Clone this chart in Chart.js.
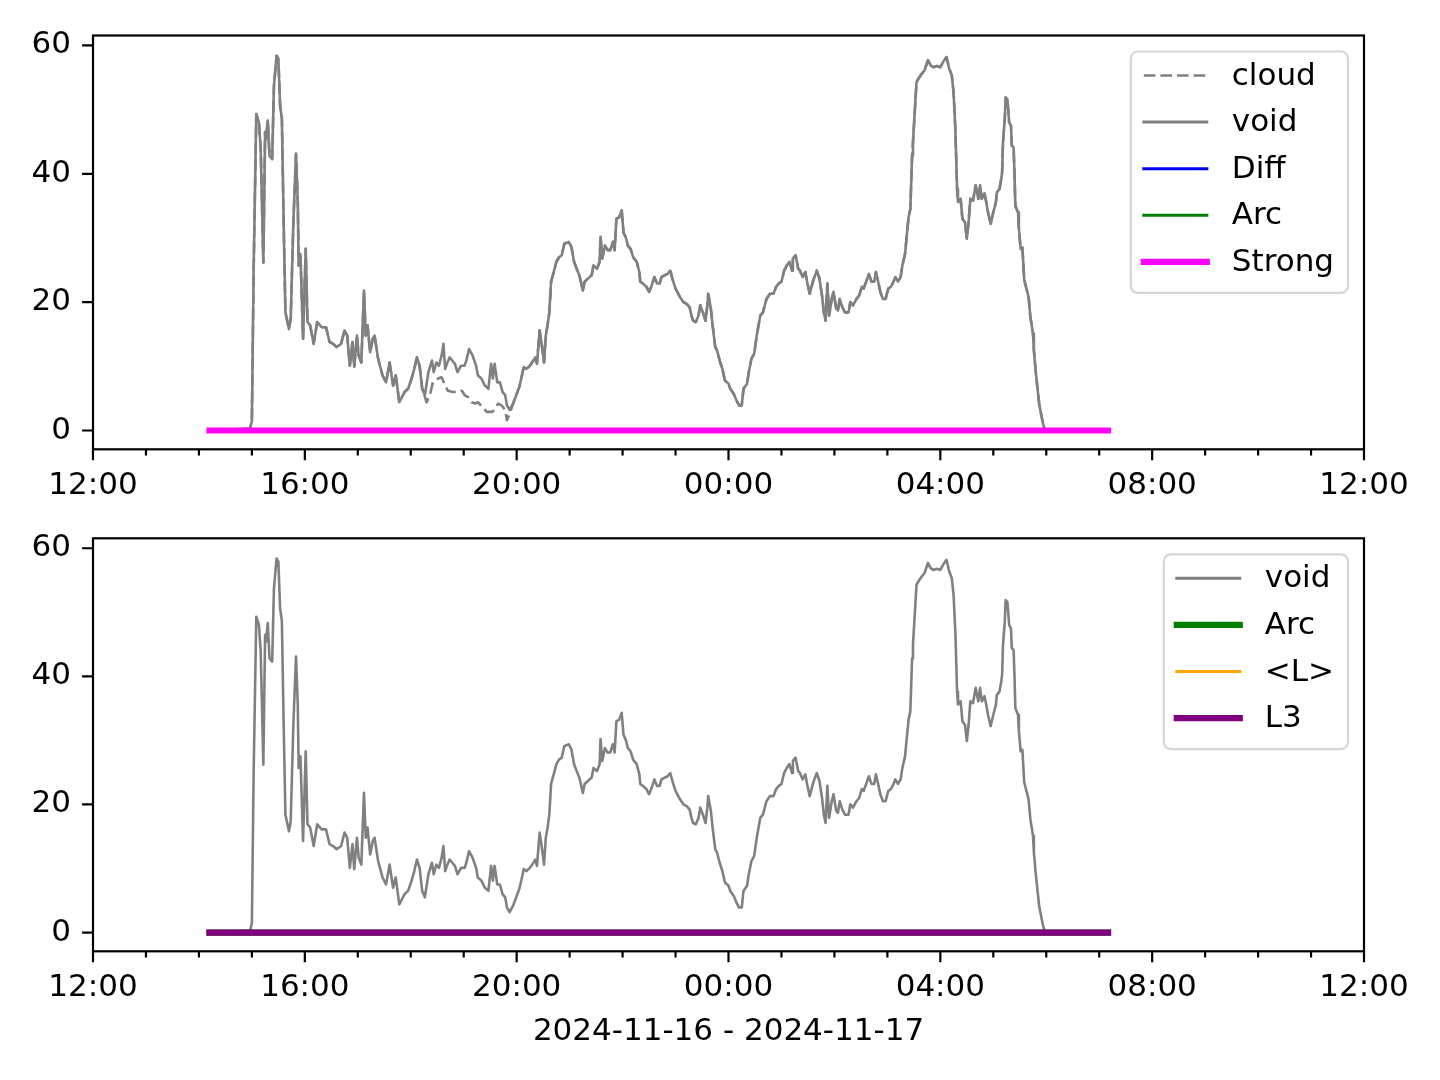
<!DOCTYPE html>
<html><head><meta charset="utf-8">
<script src="https://cdn.jsdelivr.net/npm/chart.js@4/dist/chart.umd.min.js"></script>
<style>
html,body{margin:0;padding:0;background:#fff;width:1440px;height:1080px;overflow:hidden}
canvas{position:absolute;left:0}
</style></head><body>
<canvas id="topChart" style="top:0px" width="1440" height="520"></canvas>
<canvas id="botChart" style="top:520px" width="1440" height="560"></canvas>
<script>
// ---------------- data (times are clock times, 2024-11-16 12:00 -> 2024-11-17 12:00) ----------------
const voidTimes = ["14:12","14:58","15:00","15:02","15:05","15:08","15:10","15:13","15:15","15:16","15:18","15:20","15:23","15:25","15:28","15:30","15:32","15:34","15:36","15:38","15:42","15:44","15:47","15:50","15:52","15:53","15:55","15:58","16:01","16:03","16:06","16:10","16:14","16:19","16:24","16:28","16:32","16:36","16:41","16:45","16:48","16:51","16:54","16:56","16:59","17:01","17:04","17:07","17:09","17:11","17:14","17:17","17:19","17:23","17:28","17:32","17:36","17:40","17:43","17:47","17:50","17:53","17:57","18:01","18:04","18:07","18:10","18:13","18:16","18:20","18:24","18:26","18:29","18:32","18:35","18:37","18:39","18:41","18:44","18:47","18:50","18:53","18:57","19:01","19:03","19:06","19:10","19:14","19:16","19:20","19:24","19:28","19:31","19:33","19:35","19:38","19:41","19:44","19:47","19:49","19:52","19:56","20:00","20:03","20:06","20:08","20:11","20:15","20:19","20:21","20:23","20:26","20:28","20:31","20:33","20:35","20:37","20:39","20:42","20:45","20:48","20:51","20:54","20:59","21:02","21:05","21:08","21:11","21:15","21:17","21:21","21:25","21:27","21:31","21:34","21:35","21:37","21:40","21:43","21:46","21:49","21:51","21:53","21:56","21:59","22:01","22:04","22:06","22:09","22:12","22:16","22:19","22:20","22:23","22:27","22:30","22:33","22:36","22:39","22:42","22:44","22:48","22:51","22:54","22:57","23:00","23:05","23:09","23:13","23:16","23:18","23:20","23:23","23:26","23:28","23:31","23:34","23:36","23:37","23:40","23:42","23:45","23:47","23:50","23:53","23:56","00:00","00:02","00:06","00:09","00:12","00:15","00:17","00:21","00:23","00:26","00:29","00:32","00:36","00:39","00:43","00:47","00:51","00:54","00:57","01:00","01:03","01:06","01:09","01:12","01:13","01:16","01:19","01:21","01:24","01:27","01:29","01:32","01:36","01:40","01:43","01:46","01:48","01:50","01:52","01:54","01:57","01:59","02:02","02:04","02:06","02:09","02:12","02:16","02:18","02:21","02:25","02:28","02:31","02:33","02:36","02:39","02:42","02:45","02:47","02:50","02:52","02:55","02:58","03:01","03:04","03:07","03:09","03:12","03:15","03:17","03:20","03:22","03:24","03:26","03:28","03:29","03:31","03:33","03:36","03:39","03:42","03:46","03:49","03:52","03:56","04:00","04:03","04:07","04:10","04:13","04:15","04:17","04:19","04:20","04:23","04:25","04:28","04:30","04:32","04:34","04:37","04:40","04:43","04:45","04:47","04:50","04:52","04:54","04:57","05:00","05:03","05:04","05:07","05:09","05:10","05:11","05:13","05:14","05:16","05:18","05:20","05:21","05:23","05:24","05:25","05:28","05:29","05:31","05:33","05:35","05:37","05:40","05:42","05:45","05:46","05:48","05:50","05:52","05:55","05:57","05:59","07:10"];
const voidValues = [0,0.3,1.5,25,49.3,48.0,43.9,26.2,46.5,45.4,48.3,42.8,42.3,53.7,58.4,57.9,50.6,48.6,32.4,18.4,15.8,17.4,32.4,43.1,35.6,25.7,27.5,14.3,28.3,16.9,16.4,13.5,16.9,16.1,16.1,13.8,13.5,13.0,13.5,15.6,14.8,10.1,13.8,9.9,14.8,11.7,10.6,21.8,14.8,16.4,12.2,14.3,14.8,11.2,8.6,7.5,10.6,7.0,8.6,4.4,5.2,6.0,6.5,8.1,9.6,11.4,10.1,6.5,5.5,9.1,10.9,9.1,10.6,10.1,11.7,13.5,9.6,10.4,11.4,10.9,10.4,9.1,10.1,10.1,10.9,12.7,11.7,10.1,8.6,8.1,7.0,6.5,10.4,8.1,10.4,7.5,7.5,6.0,5.5,3.9,3.2,4.2,5.7,6.8,8.6,9.9,9.6,10.1,10.9,11.4,10.4,15.6,13.8,10.6,14.8,16.4,18.4,23.2,24.7,26.3,27.0,27.3,29.1,29.4,28.6,26.3,25.2,24.2,21.8,23.2,23.7,24.2,25.7,25.2,26.3,30.2,26.8,28.8,28.1,28.1,29.4,28.1,33.0,33.2,34.3,30.9,29.9,28.8,28.3,27.0,26.3,24.7,23.2,22.9,22.4,21.6,22.6,23.9,22.9,22.9,23.9,24.2,24.4,24.9,23.4,22.1,20.8,20.0,19.7,19.2,17.9,17.1,16.9,17.9,19.5,18.4,17.1,19.5,21.3,19.0,16.4,13.0,12.5,10.9,9.6,7.8,7.3,6.5,5.7,4.7,3.9,3.9,6.5,7.3,9.1,11.2,11.9,14.8,17.9,18.4,20.5,21.3,21.3,22.4,22.9,23.2,24.9,25.7,26.3,24.9,26.8,27.3,25.2,24.9,23.9,24.7,23.2,21.3,23.4,24.9,23.7,21.0,18.4,17.1,22.9,17.9,20.5,21.6,19.0,18.7,20.5,19.2,18.4,18.4,20.0,19.5,20.5,21.0,22.4,22.1,23.2,24.4,23.2,23.2,24.7,22.9,21.6,20.5,20.5,22.1,22.4,23.2,23.9,23.2,23.9,25.7,27.5,30.4,33.2,34.5,42.8,44.9,49.6,54.3,55.0,55.6,56.1,57.7,56.9,56.6,56.8,56.6,57.4,58.2,56.4,55.3,52.7,47.0,37.6,35.6,36.1,33.0,32.4,29.9,32.4,36.1,35.8,38.2,36.1,38.2,36.1,36.9,35.6,34.0,32.2,34.0,35.6,37.1,37.6,39.2,40.2,44.9,48.5,51.9,51.6,48.0,47.5,44.4,44.1,40.2,35.0,34.0,31.4,28.3,28.5,23.5,22.4,20.8,17.7,15.1,12.5,9.3,6.7,4.1,2.0,0.7,0,0];
// stretch where "cloud" departs from "void" (elsewhere both coincide)
const cloudTimes = ["18:18","18:22","18:25","18:31","18:35","18:39","18:42","18:48","18:54","18:58","19:01","19:05","19:09","19:13","19:16","19:22","19:26","19:32","19:35","19:39","19:43","19:47","19:49","19:52"];
const cloudValues = [4.4,5.7,7.5,8.1,8.3,7.0,6.2,6.0,6.0,6.2,5.5,5.2,4.4,4.2,4.4,3.6,2.9,2.9,3.2,4.2,3.9,3.2,1.6,2.6];
const flatTimes = ["14:12","07:10"];
const diffValues = [0,0];
const arcValues = [0,0];
const strongValues = [0,0];
const meanLValues = [0,0];
const l3Values = [0,0];
const xMajorHours = [0,4,8,12,16,20,24];
const xTickLabels = ["12:00","16:00","20:00","00:00","04:00","08:00","12:00"];
const xMinorHours = [1,2,3,5,6,7,9,10,11,13,14,15,17,18,19,21,22,23];
const yTickValues = [0,20,40,60];
const yTickLabels = ["0","20","40","60"];
const xTitle = "2024-11-16 - 2024-11-17";

// ---------------- helpers ----------------
const FONT = '"DejaVu Sans", sans-serif';
const FS = 31;
function toHours(t){ const [h,m] = t.split(':').map(Number); return ((h - 12 + 24) % 24) + m/60; }
function pts(times, vals){ return times.map((t,i)=>({x:toHours(t), y:vals[i]})); }
const voidPts = pts(voidTimes, voidValues);
const cloudSeg = pts(cloudTimes, cloudValues);
const segStart = toHours("18:13"), segEnd = toHours("19:56");
const cloudPts = voidPts.filter(p => p.x <= segStart || p.x >= segEnd).concat(cloudSeg).sort((a,b)=>a.x-b.x);

const frame = {
  id:'frame',
  afterDatasetsDraw(chart){
    const {ctx, chartArea:a, scales:{x,y}} = chart;
    ctx.save();
    ctx.strokeStyle = '#000'; ctx.lineWidth = 2.2; ctx.lineCap='butt';
    ctx.strokeRect(a.left, a.top, a.right-a.left, a.bottom-a.top);
    ctx.beginPath();
    x.ticks.forEach(t => {
      const px = x.getPixelForValue(t.value);
      const len = xMajorHours.includes(t.value) ? 10.9 : 6.25;
      ctx.moveTo(px, a.bottom); ctx.lineTo(px, a.bottom+len);
    });
    y.ticks.forEach(t => {
      const py = y.getPixelForValue(t.value);
      ctx.moveTo(a.left-10.9, py); ctx.lineTo(a.left, py);
    });
    ctx.stroke();
    ctx.restore();
  }
};

const mplLegend = {
  id:'mplLegend',
  afterDraw(chart){
    const {ctx, chartArea:a} = chart;
    const ds = chart.data.datasets;
    ctx.save();
    ctx.font = FS + 'px ' + FONT;
    const maxW = Math.max(...ds.map(d => ctx.measureText(d.label).width));
    const padL=13, handle=63, gap=25, padR=14, rowH=46.6, firstOff=24, lastOff=31;
    const w = padL+handle+gap+maxW+padR;
    const h = firstOff + rowH*(ds.length-1) + lastOff;
    const right = a.right - 16, top = a.top + 16, left = right - w;
    ctx.beginPath();
    ctx.roundRect(left, top, w, h, 7);
    ctx.fillStyle = 'rgba(255,255,255,0.8)'; ctx.fill();
    ctx.strokeStyle = '#d6d6d6'; ctx.lineWidth = 2.2; ctx.stroke();
    ds.forEach((d,i) => {
      const yy = top + firstOff + i*rowH;
      const dashed = d.borderDash && d.borderDash.length;
      ctx.beginPath();
      ctx.setLineDash(dashed ? d.borderDash : []);
      ctx.lineCap = dashed ? 'butt' : 'square';
      ctx.strokeStyle = d.borderColor; ctx.lineWidth = d.legendWidth || d.borderWidth;
      ctx.moveTo(left+padL, yy); ctx.lineTo(left+padL+handle, yy); ctx.stroke();
      ctx.setLineDash([]);
      ctx.fillStyle = '#000'; ctx.textBaseline = 'middle'; ctx.textAlign = 'left';
      ctx.fillText(d.label, left+padL+handle+gap, yy+1);
    });
    ctx.restore();
  }
};

function line(label, data, color, width, order, dash, legendWidth){
  return {label, data, borderColor:color, backgroundColor:color, borderWidth:width, order,
    borderDash: dash || [], legendWidth, pointRadius:0, fill:false, tension:0,
    borderJoinStyle:'round', borderCapStyle: dash ? 'butt' : 'square'};
}

function makeChart(id, datasets, target, canvasH, withTitle){
  const cfg = {xh: canvasH - target.bottom, yw: target.left};
  const chart = new Chart(document.getElementById(id), {
    type:'line',
    data:{datasets},
    options:{
      responsive:false, animation:false, devicePixelRatio:1,
      layout:{padding:{left:0, right:1440-target.right, top:target.top, bottom:0}},
      plugins:{legend:{display:false}, tooltip:{enabled:false}},
      scales:{
        x:{ type:'linear', min:0, max:24,
          grid:{display:false, drawTicks:false}, border:{display:false},
          afterBuildTicks: ax => { ax.ticks = xMajorHours.concat(xMinorHours).sort((a,b)=>a-b).map(v=>({value:v})); },
          afterFit: ax => { ax.height = cfg.xh; ax.paddingLeft = 0; ax.paddingRight = 0; },
          ticks:{ autoSkip:false, maxRotation:0, minRotation:0, padding:18, color:'#000',
            font:{family:FONT, size:FS},
            callback: v => { const i = xMajorHours.indexOf(v); return i>=0 ? xTickLabels[i] : ''; } },
          title:{ display:withTitle, text:xTitle, color:'#000', font:{family:FONT, size:FS}, padding:{top:0, bottom:target.titleBottom || 0} }
        },
        y:{ type:'linear', min:-2.93, max:61.55,
          grid:{display:false, drawTicks:false}, border:{display:false},
          afterBuildTicks: ax => { ax.ticks = yTickValues.map(v=>({value:v})); },
          afterFit: ax => { ax.width = cfg.yw; ax.paddingTop = 0; ax.paddingBottom = 0; },
          ticks:{ padding:22, color:'#000', font:{family:FONT, size:FS},
            callback: v => { const i = yTickValues.indexOf(v); return i>=0 ? yTickLabels[i] : ''; } }
        }
      }
    },
    plugins:[frame, mplLegend]
  });
  // nudge the layout so the plot area lands exactly where the reference axes are
  for (let k=0; k<5; k++){
    const a = chart.chartArea;
    const dT = target.top - a.top, dB = a.bottom - target.bottom, dR = a.right - target.right, dL = target.left - a.left;
    if (Math.abs(dT)<0.2 && Math.abs(dB)<0.2 && Math.abs(dR)<0.2 && Math.abs(dL)<0.2) break;
    const p = chart.config.options.layout.padding;
    chart.config.options.layout.padding = {left:p.left, right:p.right + dR, top:p.top + dT, bottom:0};
    cfg.xh += dB; cfg.yw += dL;
    chart.update();
  }
  return chart;
}

makeChart('topChart', [
  line('cloud', cloudPts, '#808080', 2.6, 5, [11.6,5], 2.6),
  line('void', voidPts, '#808080', 2.6, 4, null, 3),
  line('Diff', pts(flatTimes, diffValues), '#0000ff', 3.1, 3),
  line('Arc', pts(flatTimes, arcValues), '#008000', 3.1, 2),
  line('Strong', pts(flatTimes, strongValues), '#ff00ff', 6.2, 1)
], {top:35.5, bottom:449.3, left:93, right:1364}, 520, false);

makeChart('botChart', [
  line('void', voidPts, '#808080', 2.6, 4, null, 3),
  line('Arc', pts(flatTimes, arcValues), '#008000', 6.2, 3),
  line('<L>', pts(flatTimes, meanLValues), '#ffa500', 3.1, 2),
  line('L3', pts(flatTimes, l3Values), '#800080', 6.2, 1)
], {top:18.3, bottom:431.3, left:93, right:1364, titleBottom:29}, 560, true);
</script>
</body></html>
